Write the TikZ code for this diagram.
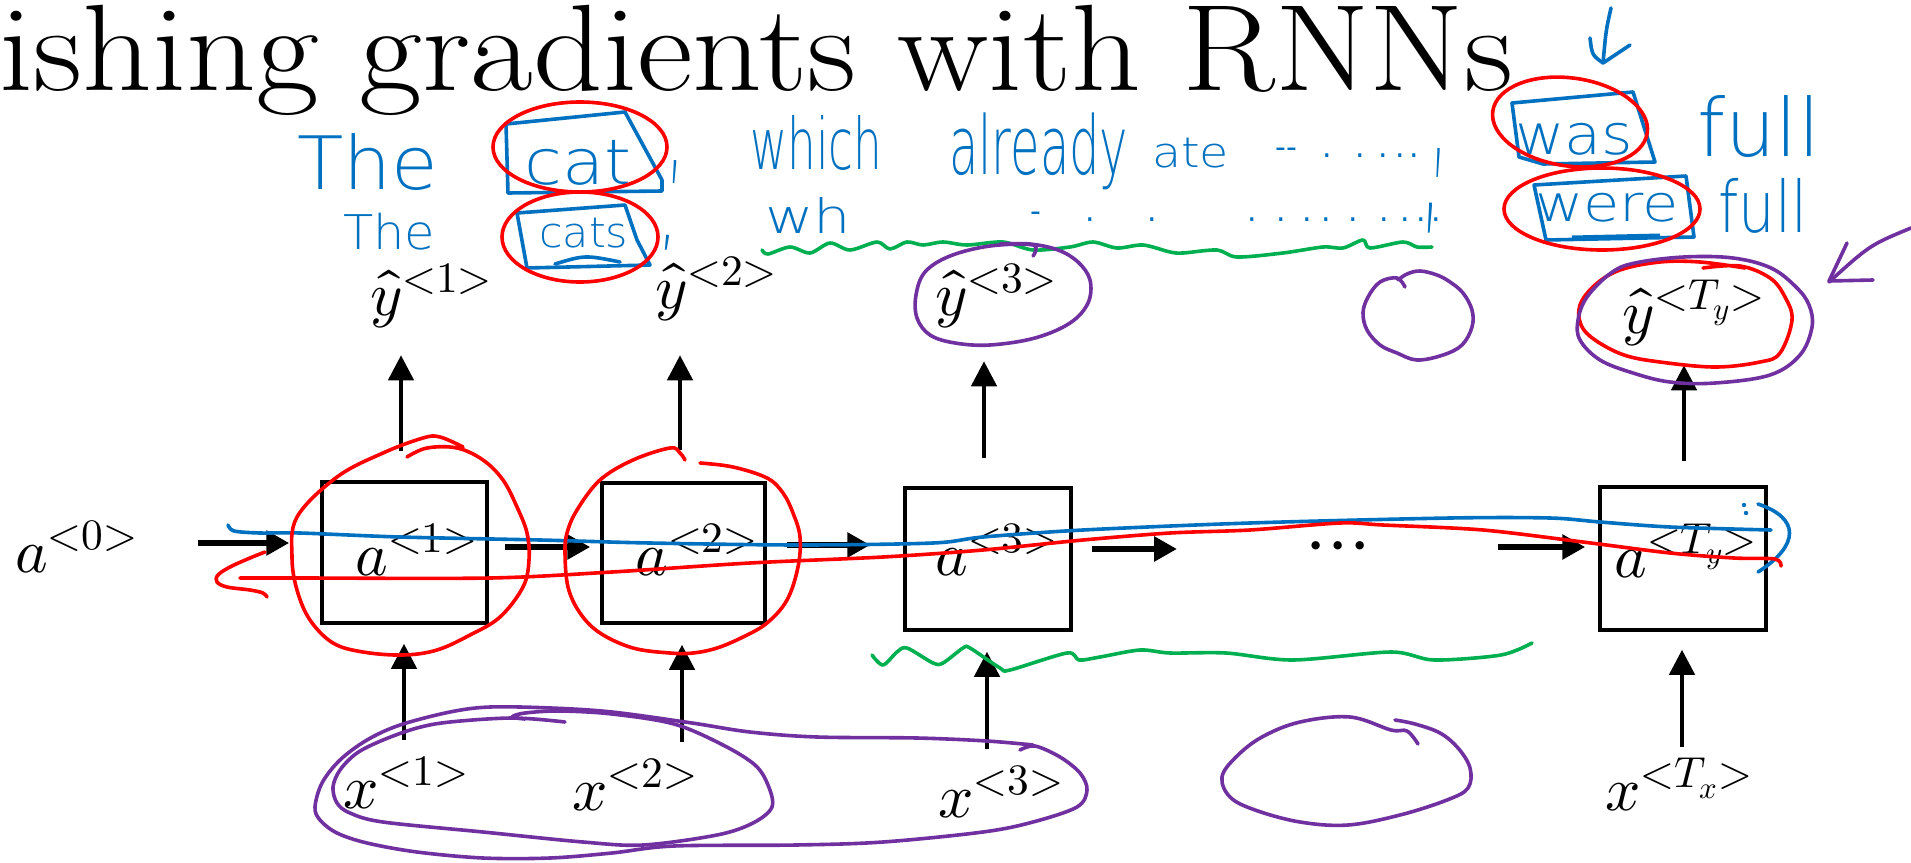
\documentclass[tikz,border=0pt]{standalone}
\usepackage{fontspec}
\usepackage{unicode-math}
\setmathfont{Latin Modern Math}
\usepackage{graphicx}
\usetikzlibrary{arrows.meta,calc}
\newfontfamily\hwfont{DejaVu Sans ExtraLight}
\definecolor{hwblue}{RGB}{0,112,192}
\definecolor{hwred}{RGB}{255,0,0}
\definecolor{hwgreen}{RGB}{0,176,80}
\definecolor{hwpurple}{RGB}{112,48,160}
\newcommand{\hwfit}[3]{\resizebox*{#1pt}{#2pt}{\hwfont #3}}
\begin{document}
\begin{tikzpicture}[x=1pt,y=-1pt,
  cell/.style={draw=black, line width=3.5pt, inner sep=0},
  lab/.style={anchor=base west, inner sep=0, font=\fontsize{62}{70}\selectfont},
  harr/.style={line width=6pt, -{Triangle[width=24pt,length=23pt]}},
  varr/.style={line width=4.5pt, -{Triangle[width=25pt,length=25pt]}},
  hand/.style={line width=3.6pt, line cap=round, line join=round},
  hw/.style={anchor=north west, inner sep=0, text=hwblue},
  dotrow/.style={anchor=base west, inner sep=0, text=hwblue, font=\fontsize{30}{30}\hwfont\bfseries}]
\fill[white] (0,0) rectangle (1911,862);
\useasboundingbox (0,0) rectangle (1911,862);

% title
\node[anchor=base west, inner sep=0, font=\fontsize{123}{123}\selectfont] (title) at (-1,90) {\scalebox{1.11}[1]{ishing gradients with RNNs}};

% cells
\node[cell, minimum width=165pt, minimum height=141pt] (b1) at (404.5,552.5) {};
\node[cell, minimum width=163pt, minimum height=140pt] (b2) at (683.5,553) {};
\node[cell, minimum width=166pt, minimum height=142pt] (b3) at (988,559) {};
\node[cell, minimum width=166pt, minimum height=143pt] (b4) at (1683,558.5) {};

% labels
\node[lab] (a0) at (15,572) {$a^{<0>}$};
\node[lab] (a1) at (355,575) {$a^{<1>}$};
\node[lab] (a2) at (635,575) {$a^{<2>}$};
\node[lab] (a3) at (935,575) {$a^{<3>}$};
\node[lab] (a4) at (1614,577) {$a^{<T_y>}$};
\node[lab] (y1) at (370,315) {$\hat{y}^{<1>}$};
\node[lab] (y2) at (655,308) {$\hat{y}^{<2>}$};
\node[lab] (y3) at (935,315) {$\hat{y}^{<3>}$};
\node[lab] (y4) at (1622,333) {$\hat{y}^{<T_y>}$};
\node[lab] (x1) at (343,808) {$x^{<1>}$};
\node[lab] (x2) at (572,810) {$x^{<2>}$};
\node[lab] (x3) at (938,817) {$x^{<3>}$};
\node[lab] (x4) at (1605,810) {$x^{<T_x>}$};
\node[anchor=base, inner sep=0, font=\fontsize{79}{79}\selectfont] (dots) at (1338,565) {$\cdots$};

% horizontal arrows
\draw[harr] ($(a0.base east)+(60,-29)$) -- ($(b1.west)+(-31,-9.5)$);
\draw[harr] ($(b1.east)+(16,-5.5)$) -- ($(b2.west)+(-10,-6)$);
\draw[harr] ($(b2.east)+(20,-8)$) -- ($(b3.west)+(-33,-14)$);
\draw[harr] ($(b3.east)+(19,-10)$) -- ($(dots.base)+(-161,-16)$);
\draw[harr] ($(dots.base)+(160,-18)$) -- ($(b4.west)+(-13,-11.5)$);

% vertical arrows
\draw[varr] ($(b1.north)+(-3.5,-29)$) -- ($(b1.north)+(-3.5,-125)$);
\draw[varr] ($(b2.north)+(-3.5,-31)$) -- ($(b2.north)+(-3.5,-126)$);
\draw[varr] ($(b3.north)+(-4,-28)$) -- ($(b3.north)+(-4,-125)$);
\draw[varr] ($(b4.north)+(1,-24)$) -- ($(b4.north)+(1,-120)$);
\draw[varr] ($(b1.south)+(-0.5,115)$) -- ($(b1.south)+(-0.5,19)$);
\draw[varr] ($(b2.south)+(-1.5,117)$) -- ($(b2.south)+(-1.5,20)$);
\draw[varr] ($(b3.south)+(-1,117)$) -- ($(b3.south)+(-1,20)$);
\draw[varr] ($(b4.south)+(-1,115)$) -- ($(b4.south)+(-1,18)$);

% handwriting row 1
\node[hw] (w1) at (297,133) {\hwfit{141}{57}{The}};
\node[hw] (w2) at (524,140) {\hwfit{107}{45}{cat}};
\node[hw] (w3) at (667,160) {\hwfit{16}{23}{,}};
\node[hw] (w4) at (750,115) {\hwfit{132}{55}{which}};
\node[hw] (w5) at (949,113) {\hwfit{179}{77}{already}};
\node[hw] (w6) at (1152,138) {\hwfit{77}{30}{ate}};
\node[dotrow] (w7) at (1275,157) {--\hspace{26pt}.\hspace{23pt}.\hspace{14pt}.\hspace{7pt}.\hspace{4pt}.};
\node[hw] (w8) at (1431,148) {\hwfit{15}{29}{,}};
\node[hw] (w9) at (1515,123) {\hwfit{118}{32}{was}};
\node[hw] (w10) at (1697,95) {\hwfit{123}{62}{full}};
% handwriting row 2
\node[hw] (v1) at (343,213) {\hwfit{92}{37}{The}};
\node[hw] (v2) at (539,218) {\hwfit{89}{30}{cats}};
\node[hw] (v3) at (658,235) {\hwfit{19}{15}{,}};
\node[hw] (v4) at (765,197) {\hwfit{86}{36}{wh}};
\node[dotrow] (v5) at (1030,221) {-\hspace{44pt}.\hspace{53pt}.\hspace{90pt}.\hspace{20pt}.\hspace{16pt}.\hspace{10pt}.\hspace{17pt}.\hspace{22pt}.\hspace{11pt}.\hspace{7pt}.\hspace{5pt}.};
\node[hw] (v6) at (1421,203) {\hwfit{19}{30}{,}};
\node[hw] (v7) at (1535,193) {\hwfit{144}{29}{were}};
\node[hw] (v8) at (1718,178) {\hwfit{89}{55}{full}};

% blue hand-drawn boxes
\draw[hwblue,hand] (506,124) -- (625,112) -- (662,180) -- (662,191) -- (508,193) -- cycle;
\draw[hwblue,hand] (517,213) -- (625,205) -- (637,240) -- (650,265) -- (527,268) -- cycle;
\draw[hwblue,hand] (555,264) .. controls (585,255) .. (620,262);
\draw[hwblue,hand] (1512,103) -- (1633,92) -- (1655,162) -- (1543,164) -- (1519,157) -- cycle;
\draw[hwblue,hand] (1534,185) -- (1686,176) -- (1694,237) -- (1546,240) -- cycle;
\draw[hwblue,line width=5pt] (1572,238) -- (1660,236);
% blue arrow
\draw[hwblue,hand] (1611,8) .. controls (1606,30) .. (1603,63);
\draw[hwblue,hand] (1590,38) .. controls (1592,55) .. (1603,63) -- (1630,45);

% red circles at top
\draw[hwred,hand] (580,147) ellipse [x radius=87, y radius=45];
\draw[hwred,hand] (580,237) ellipse [x radius=78, y radius=45];
\draw[hwred,hand, rotate around={-8:(1570,122)}] (1570,122) ellipse [x radius=78, y radius=44];
\draw[hwred,hand] (1602,209) ellipse [x radius=98, y radius=41];

% green wavy lines
\draw[hwgreen,hand] plot[smooth, tension=0.5] coordinates {(762,250) (768,254) (790,247) (810,253) (830,243) (850,250) (877,242) (890,249) (907,242) (923,245) (943,242) (967,245) (1003,242) (1033,250) (1070,247) (1093,242) (1117,248) (1143,245) (1170,252) (1183,253) (1217,250) (1237,257) (1283,253) (1323,247) (1343,248) (1363,240) (1370,248) (1403,242) (1417,247) (1432,247)};
\draw[hwgreen,hand] plot[smooth, tension=0.5] coordinates {(872,655) (883,665) (897,652) (907,648) (933,663) (943,663) (963,648) (970,648) (1000,668) (1010,670) (1067,653) (1079,660) (1100,657) (1140,650) (1170,653) (1226,653) (1293,660) (1391,652) (1434,660) (1501,655) (1532,643)};

% blue and red long lines
\draw[hwblue,hand] plot[smooth, tension=0.5] coordinates {(228,525) (234,531) (260,533) (300,533) (400,537) (540,540) (650,543) (800,545) (933,543) (983,537) (1083,530) (1250,523) (1450,518) (1550,518) (1600,522) (1670,527) (1771,530)};
\draw[hwblue,hand] (1758,504) .. controls (1800,518) and (1800,545) .. (1758,572);
\fill[hwblue] (1744,505) circle (2.2);
\fill[hwblue] (1746,513) circle (2.2);
\draw[hwred,hand] plot[smooth, tension=0.5] coordinates {(240,578) (300,578) (490,578) (612,572) (750,563) (883,557) (983,550) (1083,540) (1170,533) (1250,530) (1340,523) (1383,525) (1483,530) (1583,542) (1670,553) (1734,558) (1775,559) (1781,566)};
\draw[hwred,hand] plot[smooth, tension=0.6] coordinates {(265,552) (250,558) (230,567) (218,575) (217,582) (227,587) (250,590) (263,593) (267,597)};

% red circles round cells
\draw[hwred,hand] plot[smooth, tension=0.6] coordinates {(407,457) (427,448) (457,448) (483,460) (503,480) (517,507) (527,533) (529,560) (523,587) (500,617) (470,635) (437,650) (403,655) (363,652) (333,643) (310,620) (297,590) (292,557) (297,517) (337,477) (383,453) (423,438) (440,437) (463,447)};
\draw[hwred,hand] plot[smooth, tension=0.6] coordinates {(700,463) (733,467) (767,478) (783,493) (793,513) (800,537) (798,567) (787,600) (767,623) (743,637) (717,648) (693,653) (670,653) (633,648) (600,633) (580,613) (568,587) (565,553) (567,533) (577,510) (600,480) (633,460) (670,448) (680,453) (685,460)};

% circles round outputs
\draw[hwpurple,hand] plot[smooth, tension=0.6] coordinates {(1033,256) (1033,245) (990,246) (950,256) (925,272) (916,295) (917,318) (930,335) (955,343) (990,345) (1035,338) (1070,323) (1088,303) (1090,280) (1078,262) (1058,250) (1030,244) (1000,244)};
\draw[hwpurple,hand] plot[smooth, tension=0.6] coordinates {(1405,287) (1397,278) (1380,282) (1368,297) (1363,313) (1367,330) (1380,345) (1397,353) (1417,360) (1443,355) (1462,345) (1472,327) (1472,310) (1463,293) (1450,282) (1437,275) (1420,271) (1407,274) (1398,280)};
\draw[hwred,hand] plot[smooth, tension=0.6] coordinates {(1703,268) (1740,266) (1770,278) (1785,297) (1792,320) (1780,353) (1760,362) (1715,367) (1660,362) (1624,355) (1595,340) (1581,325) (1580,305) (1595,285) (1620,270) (1660,262) (1700,262) (1745,268)};
\draw[hwpurple,hand] plot[smooth cycle, tension=0.6] coordinates {(1587,297) (1611,273) (1635,263) (1684,257) (1733,258) (1771,268) (1796,287) (1809,305) (1812,327) (1800,355) (1770,375) (1715,383) (1670,382) (1633,373) (1600,360) (1580,340) (1578,320)};
% purple arrow
\draw[hwpurple,hand] (1911,228) .. controls (1870,245) .. (1829,282);
\draw[hwpurple,hand] (1847,243) -- (1829,281) -- (1873,280);

% purple loops at bottom
\draw[hwpurple,hand] plot[smooth, tension=0.55] coordinates {(1020,750) (1035,746) (1060,757) (1080,773) (1087,790) (1077,807) (1033,822) (983,832) (883,842) (796,845) (674,846) (612,853) (550,858) (483,858) (417,852) (367,843) (337,833) (320,820) (315,807) (322,783) (340,760) (367,740) (400,725) (450,712) (490,707) (551,708) (612,712) (692,723) (750,732) (817,737) (917,738) (987,741) (1033,745)};
\draw[hwpurple,hand] plot[smooth, tension=0.55] coordinates {(565,722) (513,718) (450,722) (417,728) (383,740) (357,753) (340,770) (333,787) (337,803) (350,813) (383,822) (483,832) (583,842) (643,845) (717,835) (753,823) (772,807) (768,785) (755,765) (723,745) (674,724) (612,714) (560,711) (525,713) (512,717) (525,719)};
\draw[hwpurple,hand] plot[smooth, tension=0.6] coordinates {(1418,744) (1407,731) (1391,730) (1350,717) (1300,722) (1262,737) (1236,757) (1222,777) (1230,797) (1255,810) (1300,822) (1348,825) (1400,815) (1447,800) (1468,788) (1470,768) (1458,748) (1440,733) (1415,724) (1395,720)};
\end{tikzpicture}
\end{document}
